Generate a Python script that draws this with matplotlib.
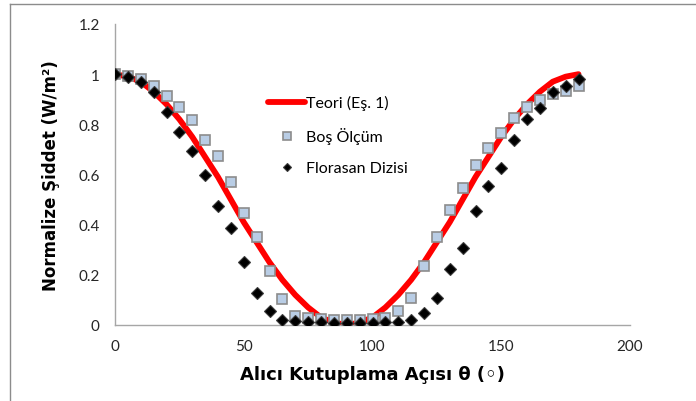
import matplotlib
matplotlib.use("Agg")
import matplotlib.pyplot as plt
from matplotlib.lines import Line2D
import numpy as np

# angles (degrees)
angles = [0, 5, 10, 15, 20, 25, 30, 35, 40, 45, 50, 55, 60, 65, 70, 75, 80, 85, 90,
          95, 100, 105, 110, 115, 120, 125, 130, 135, 140, 145, 150, 155, 160, 165, 170, 175, 180]

# theory curve
teori = [1.0, 0.99, 0.97, 0.93, 0.88, 0.82, 0.75, 0.67, 0.59, 0.50, 0.41, 0.33, 0.25, 0.18,
         0.12, 0.07, 0.03, 0.01, 0.0, 0.01, 0.03, 0.07, 0.12, 0.18, 0.25, 0.33, 0.41, 0.50,
         0.59, 0.67, 0.75, 0.82, 0.88, 0.93, 0.97, 0.99, 1.0]

# empty measurement (squares)
bos_olcum = [1.0, 0.993, 0.98, 0.953, 0.914, 0.87, 0.817, 0.738, 0.672, 0.572, 0.446, 0.349,
             0.216, 0.104, 0.037, 0.027, 0.025, 0.02, 0.02, 0.02, 0.022, 0.027, 0.057, 0.108,
             0.234, 0.352, 0.46, 0.545, 0.637, 0.705, 0.765, 0.825, 0.87, 0.898, 0.92, 0.933,
             0.951]

# fluorescent array (diamonds)
florasan = [1.0, 0.99, 0.967, 0.93, 0.851, 0.768, 0.695, 0.60, 0.473, 0.386, 0.25, 0.127,
            0.057, 0.02, 0.015, 0.012, 0.01, 0.008, 0.008, 0.008, 0.008, 0.01, 0.012, 0.018,
            0.048, 0.108, 0.222, 0.306, 0.453, 0.555, 0.626, 0.738, 0.823, 0.865, 0.927,
            0.951, 0.98]

x_ticks = [0, 50, 100, 150, 200]
y_ticks = [0, 0.2, 0.4, 0.6, 0.8, 1.0, 1.2]
y_tick_labels = ["0", "0.2", "0.4", "0.6", "0.8", "1", "1.2"]

W, H = 696, 402
fig = plt.figure(figsize=(W / 100, H / 100), dpi=100)
fig.patch.set_facecolor("white")

# outer chart border (only top & left visible)
fig.add_artist(Line2D([10 / W, 10 / W], [1 - 5 / H, -0.1], color="#8c8c8c", lw=1.0,
                      transform=fig.transFigure))
fig.add_artist(Line2D([10 / W, 1.1], [1 - 5 / H, 1 - 5 / H], color="#8c8c8c", lw=1.0,
                      transform=fig.transFigure))

ax = fig.add_axes([115 / W, 1 - 326 / H, (630 - 115) / W, (326 - 25) / H])

ax.plot(angles, teori, color="#ff0000", lw=4.2, solid_joinstyle="round",
        solid_capstyle="round", label="Teori (Eş. 1)", zorder=2)
ax.plot(angles, bos_olcum, ls="none", marker="s", ms=7.2, mfc="#b9cde5", mec="#8c8c8c",
        mew=1.2, label="Boş Ölçüm", zorder=3)
ax.plot(angles, florasan, ls="none", marker="D", ms=6.0, mfc="black", mec="#3a3a3a",
        mew=0.8, label="Florasan Dizisi", zorder=4)

ax.set_xlim(0, 200)
ax.set_ylim(0, 1.2)
ax.set_xticks(x_ticks)
ax.set_yticks(y_ticks)
ax.set_yticklabels(y_tick_labels)

for s in ["top", "right"]:
    ax.spines[s].set_visible(False)
for s in ["left", "bottom"]:
    ax.spines[s].set_color("#a6a6a6")
    ax.spines[s].set_linewidth(1.0)

ax.tick_params(axis="both", length=0, labelsize=11, labelcolor="#262626")
ax.tick_params(axis="x", pad=10)
ax.tick_params(axis="y", pad=11)
for t in ax.get_xticklabels() + ax.get_yticklabels():
    t.set_fontfamily(["Lato", "DejaVu Sans"])

ax.set_xlabel("Alıcı Kutuplama Açısı θ (◦)", fontsize=13, fontweight="bold",
              family=["DejaVu Sans"], labelpad=9)
ax.set_ylabel("Normalize Şiddet (W/m²)", fontsize=12, fontweight="bold",
              family=["DejaVu Sans"], labelpad=13)

leg = ax.legend(loc="upper left", bbox_to_anchor=(139 / 515, 1 - 57 / 301), frameon=False,
                prop={"family": ["Lato", "DejaVu Sans"], "size": 11.5}, handlelength=2.3,
                handletextpad=0.05, labelspacing=1.05, markerscale=0.75)

fig.savefig("out.png", dpi=100, facecolor="white")
